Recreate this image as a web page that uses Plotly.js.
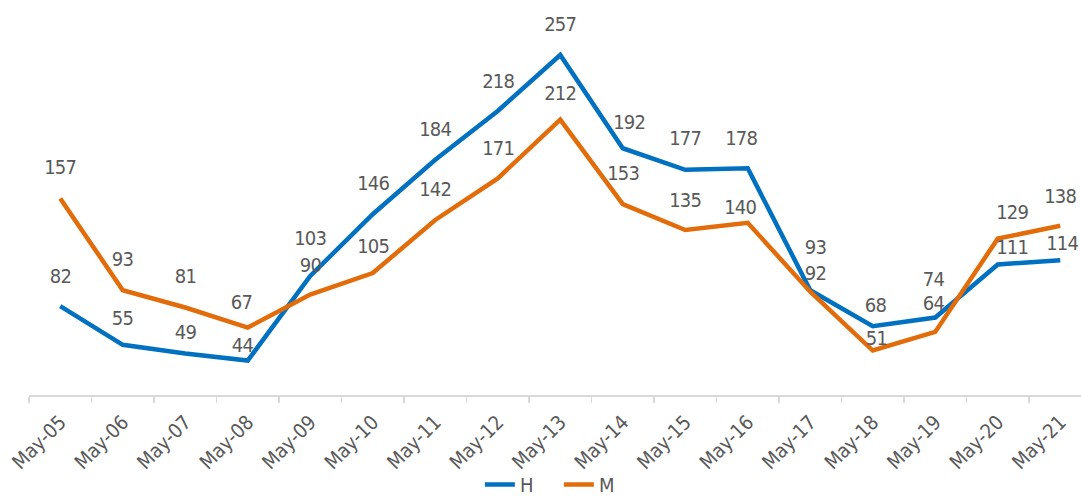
<!DOCTYPE html>
<html>
<head>
<meta charset="utf-8">
<script src="https://cdn.plot.ly/plotly-3.0.1.min.js"></script>
<style>
  html, body { margin: 0; padding: 0; background: #ffffff; }
  #chart { width: 1081px; height: 504px; }
  #chart .annotation-text { letter-spacing: -0.8px; }
</style>
</head>
<body>
<div id="chart"></div>
<script>
// ---- data ----
const categories = ["May-05","May-06","May-07","May-08","May-09","May-10","May-11","May-12","May-13","May-14","May-15","May-16","May-17","May-18","May-19","May-20","May-21"];
const seriesH = [82, 55, 49, 44, 103, 146, 184, 218, 257, 192, 177, 178, 93, 68, 74, 111, 114];
const seriesM = [157, 93, 81, 67, 90, 105, 142, 171, 212, 153, 135, 140, 92, 51, 64, 129, 138];
const seriesNames = ["H", "M"];

// ---- label placement (pixel offsets, style only) ----
const labelShiftYH = [30, 27, 21, 16, 38, 31, 31, 30, 31, 26, 32, 30, 43, 21, 39, 17, 17];
const labelShiftXH = [0, 0, 0, -5, 0, 0, 0, 0, 0, 6, 0, -7, 5, 3, -2, 14, 2];
const labelShiftYM = [31, 31, 31, 26, 30, 27, 31, 30, 27, 31, 30, 16, 19, 13, 29, 27, 30];
const labelShiftXM = [0, 0, 0, -6, 0, 0, 0, 0, 0, 0, 0, -8, 5, 4, -2, 14, 0];

const FONT = "'Liberation Sans Narrow', 'Arial Narrow', 'DejaVu Sans Condensed', sans-serif";
const TXT = "#595959";
const BLUE = "#0070C0";
const ORANGE = "#E36C0A";

const traces = [
  { x: categories, y: seriesH, name: seriesNames[0], type: "scatter", mode: "lines",
    line: { color: BLUE, width: 4.5 }, hoverinfo: "skip" },
  { x: categories, y: seriesM, name: seriesNames[1], type: "scatter", mode: "lines",
    line: { color: ORANGE, width: 4.5 }, hoverinfo: "skip" }
];

const annotations = [];
function addLabels(vals, sx, sy) {
  vals.forEach((v, i) => {
    annotations.push({
      x: categories[i], y: v, xref: "x", yref: "y",
      text: String(v), showarrow: false,
      xanchor: "center", yanchor: "middle",
      xshift: sx[i], yshift: sy[i],
      font: { family: FONT, size: 20, color: TXT }
    });
  });
}
addLabels(seriesH, labelShiftXH, labelShiftYH);
addLabels(seriesM, labelShiftXM, labelShiftYM);

const layout = {
  width: 1081, height: 504,
  margin: { l: 29, r: 0, t: 21.5, b: 108.5 },
  paper_bgcolor: "#ffffff", plot_bgcolor: "#ffffff",
  font: { family: FONT, size: 20, color: TXT },
  showlegend: true,
  legend: { orientation: "h", xref: "container", yref: "container",
            x: 0.517, xanchor: "center", y: 0, yanchor: "bottom",
            entrywidth: 34,
            font: { family: FONT, size: 20, color: TXT }, bgcolor: "rgba(0,0,0,0)" },
  xaxis: {
    type: "category", range: [-0.5, 16.332], automargin: false,
    showline: true, linecolor: "#d9d9d9", linewidth: 1.5,
    ticks: "outside", tickson: "boundaries", ticklen: 6, tickcolor: "#d9d9d9", tickwidth: 1.5,
    tickangle: -45, ticklabelstandoff: 6, showgrid: false, zeroline: false,
    tickfont: { family: FONT, size: 20, color: TXT }, fixedrange: true
  },
  yaxis: {
    range: [20, 280], visible: false, showgrid: false, zeroline: false, fixedrange: true, automargin: false
  },
  annotations: annotations
};

Plotly.newPlot("chart", traces, layout, { displayModeBar: false, staticPlot: true });
</script>
</body>
</html>
